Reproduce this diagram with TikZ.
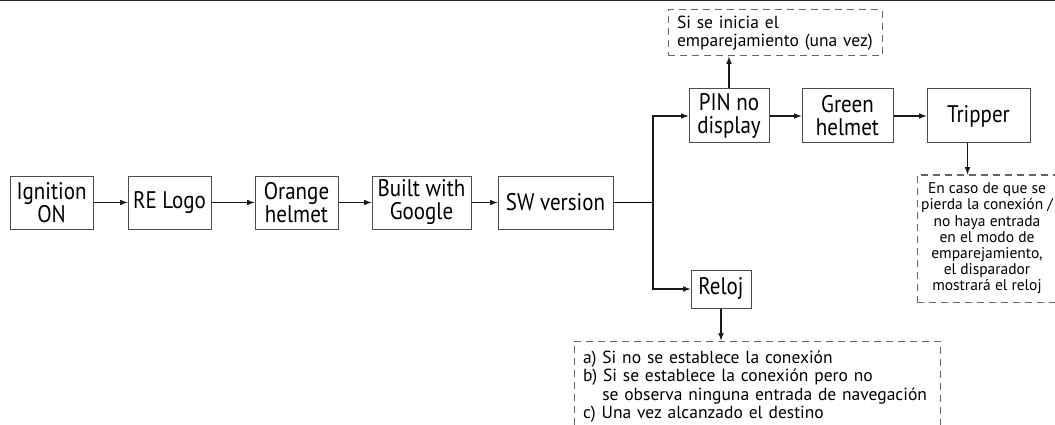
\documentclass[tikz,border=0pt]{standalone}
\usepackage{fontspec}
\setmainfont{PT Sans}
\newfontfamily\boxfont[FakeStretch=0.875]{PT Sans}
\usetikzlibrary{positioning}
\tikzset{every picture/.style={line width=1.5pt,x=1pt,y=-1pt},
box/.style={draw=black!70,line width=1pt,align=center,inner sep=1pt,minimum height=53pt,font=\boxfont\fontsize{24}{23}\selectfont},
note/.style={draw=black!60,line width=1pt,dash pattern=on 7pt off 5pt,inner xsep=9pt,inner ysep=4pt,font=\fontsize{17.5}{18.5}\selectfont},
flow/.style={-latex,draw=black!90}}

\begin{document}
\begin{tikzpicture}
\useasboundingbox (0,0) rectangle (1055,425);
\clip (0,0) rectangle (1055,425);
\draw[line width=2.5pt,black!85] (0,0) -- (1055,0);

\node (ign) [box, minimum width=83pt] at (51.5,202.5) {Ignition\\ON};
\node (logo) [box, minimum width=83pt] at (169.5,202.5) {RE Logo};
\node (orange) [box, minimum width=83pt] at (296.5,202.5) {Orange\\helmet};
\node (google) [box, minimum width=99pt] at (421.5,202.5) {Built with\\Google};
\node (sw) [box, minimum width=115pt] at (555.5,202.5) {SW version};
\node (pin) [box, minimum width=80pt, minimum height=54pt] at (729,116) {PIN no\\display};
\node (green) [box, minimum width=91pt, minimum height=54pt] at (847.5,116) {Green\\helmet};
\node (tripper) [box, minimum width=103pt, minimum height=54pt] at (978.5,116) {Tripper};
\node (reloj) [box, minimum width=60pt, minimum height=38pt] at (721,289) {Reloj};

\node (pairing) [note, text width=196pt, minimum height=46pt, align=left] at (775,33) {Si se inicia el\\emparejamiento (una vez)};
\node (lost) [note, inner xsep=2pt, minimum width=140pt, minimum height=127pt, align=center, font=\fontsize{15.5}{16.2}\selectfont] at (987,238.5) {En caso de que se\\pierda la conexión /\\no haya entrada\\en el modo de\\emparejamiento,\\el disparador\\mostrará el reloj};
\node (cases) [note, text width=348pt, minimum height=91pt, align=left] at (757,386.5) {a) Si no se establece la conexión\\b) Si se establece la conexión pero no\\\hspace*{1.1em}se observa ninguna entrada de navegación\\c) Una vez alcanzado el destino};

\coordinate (split) at (653,202.5);
\draw[flow] (ign) -- (logo);
\draw[flow] (logo) -- (orange);
\draw[flow] (orange) -- (google);
\draw[flow] (google) -- (sw);
\draw (sw) -- (split);
\draw[flow] (split) |- (pin);
\draw[flow] (split) |- (reloj);
\draw[flow] (pin) -- (pin |- pairing.south);
\draw[flow] (pin) -- (green);
\draw[flow] (green) -- (tripper);
\draw[flow] ([xshift=-11pt]tripper.south) -- ([xshift=-11pt]tripper.south |- lost.north);
\draw[flow] (reloj) -- (reloj |- cases.north);
\end{tikzpicture}
\end{document}
